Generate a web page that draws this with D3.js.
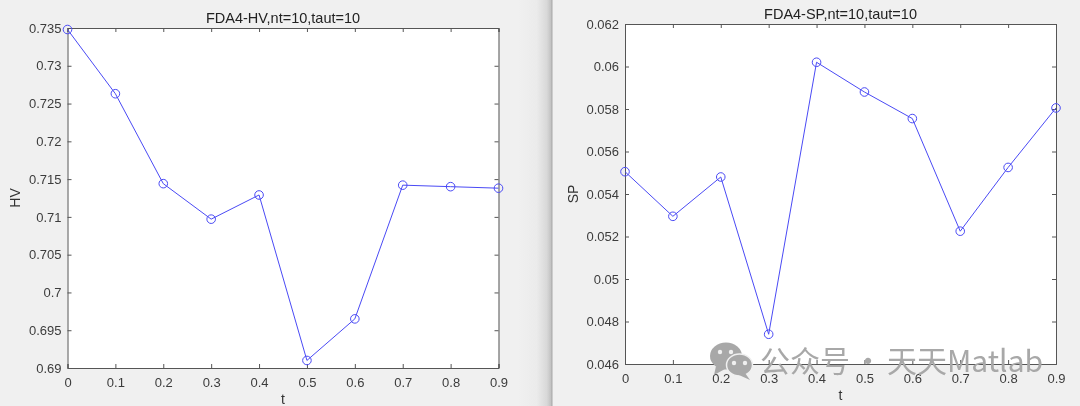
<!DOCTYPE html>
<html><head><meta charset="utf-8">
<script src="https://cdn.jsdelivr.net/npm/d3@7/dist/d3.min.js"></script>
<style>
html,body{margin:0;padding:0;background:#f0f0f0;overflow:hidden}
svg{display:block;filter:blur(0.35px)}
text{font-family:"Liberation Sans",Arial,sans-serif}
</style></head><body>
<svg id="c" width="1080" height="406"></svg>
<script>
const tValues=[0,0.1,0.2,0.3,0.4,0.5,0.6,0.7,0.8,0.9];
const hvValues=[0.7348,0.7263,0.7144,0.7097,0.7129,0.691,0.6965,0.7142,0.714,0.7138];
const spValues=[0.05505,0.05295,0.0548,0.0474,0.0602,0.0588,0.05755,0.05225,0.05525,0.05805];
const hvTicks=[0.69,0.695,0.7,0.705,0.71,0.715,0.72,0.725,0.73,0.735];
const hvLabels=["0.69","0.695","0.7","0.705","0.71","0.715","0.72","0.725","0.73","0.735"];
const spTicks=[0.046,0.048,0.05,0.052,0.054,0.056,0.058,0.06,0.062];
const spLabels=["0.046","0.048","0.05","0.052","0.054","0.056","0.058","0.06","0.062"];
const svg=d3.select("#c");
svg.append("rect").attr("width",1080).attr("height",406).attr("fill","#f0f0f0");

const defs=svg.append("defs");
const g=defs.append("linearGradient").attr("id","sep");
[[0,"#f0f0f0"],[0.55,"#ebebeb"],[0.85,"#d8d8d8"],[1,"#bcbcbc"]].forEach(s=>g.append("stop").attr("offset",s[0]).attr("stop-color",s[1]));
svg.append("rect").attr("x",518).attr("y",0).attr("width",34).attr("height",406).attr("fill","url(#sep)");
svg.append("line").attr("x1",552).attr("x2",552).attr("y1",0).attr("y2",406).attr("stroke","#a8a8a8");

function panel(o){
  const x=d3.scaleLinear().domain([0,0.9]).range([o.l,o.r]);
  const y=d3.scaleLinear().domain(o.dom).range([o.b,o.t]);
  const p=svg.append("g");
  p.append("rect").attr("x",o.l).attr("y",o.t).attr("width",o.r-o.l).attr("height",o.b-o.t).attr("fill","#fff");
  const col="#555";
  const ax=p.append("g").attr("transform",`translate(0,${o.b})`)
    .call(d3.axisBottom(x).tickValues(tValues).tickFormat(d3.format("~g")).tickSize(-4).tickPadding(10));
  const ay=p.append("g").attr("transform",`translate(${o.l},0)`)
    .call(d3.axisLeft(y).tickValues(o.ticks).tickFormat((d,i)=>o.labels[i]).tickSize(-4).tickPadding(6));
  const at=p.append("g").attr("transform",`translate(0,${o.t})`)
    .call(d3.axisTop(x).tickValues(tValues).tickFormat("").tickSize(-4));
  const ar=p.append("g").attr("transform",`translate(${o.r},0)`)
    .call(d3.axisRight(y).tickValues(o.ticks).tickFormat("").tickSize(-4));
  [ax,ay,at,ar].forEach(a=>{
    a.selectAll(".domain").attr("stroke",col).attr("stroke-width",1);
    a.selectAll("line").attr("stroke",col).attr("stroke-width",1);
    a.selectAll("text").attr("fill","#3c3c3c").style("font-size","13px");
  });
  const line=d3.line().x(d=>x(d[0])).y(d=>y(d[1]));
  const pts=tValues.map((t,i)=>[t,o.vals[i]]);
  p.append("path").attr("d",line(pts)).attr("fill","none").attr("stroke","#4a4af5").attr("stroke-width",1);
  p.selectAll("circle").data(pts).join("circle")
    .attr("cx",d=>x(d[0])).attr("cy",d=>y(d[1])).attr("r",4.3)
    .attr("fill","none").attr("stroke","#4a4af5").attr("stroke-width",1);
  p.append("text").attr("x",(o.l+o.r)/2).attr("y",o.t-5).attr("text-anchor","middle")
    .attr("fill","#222").style("font-size","14.5px").text(o.title);
  p.append("text").attr("x",(o.l+o.r)/2).attr("y",o.b+36).attr("text-anchor","middle")
    .attr("fill","#333").style("font-size","14px").text("t");
  p.append("text").attr("transform",`translate(${o.yl},${(o.t+o.b)/2}) rotate(-90)`).attr("text-anchor","middle")
    .attr("fill","#333").style("font-size","14px").text(o.ylabel);
}
panel({l:67.5,r:498.5,t:28,b:368,dom:[0.69,0.735],ticks:hvTicks,labels:hvLabels,vals:hvValues,title:"FDA4-HV,nt=10,taut=10",ylabel:"HV",yl:20});
panel({l:625,r:1056,t:24,b:364,dom:[0.046,0.062],ticks:spTicks,labels:spLabels,vals:spValues,title:"FDA4-SP,nt=10,taut=10",ylabel:"SP",yl:578});

const wm=svg.append("g").attr("fill","#a8a8a8");
wm.append("ellipse").attr("cx",726).attr("cy",356).attr("rx",16).attr("ry",13.5);
wm.append("path").attr("d","M716 366 L714 375 L725 369 Z");
wm.append("ellipse").attr("cx",739.5).attr("cy",365).attr("rx",13).attr("ry",11).attr("stroke","#f0f0f0").attr("stroke-width",1.5);
wm.append("path").attr("d","M745 373 L750 380 L739 375 Z");
[[720,352],[731,352],[734,363],[745,363]].forEach(d=>wm.append("circle").attr("cx",d[0]).attr("cy",d[1]).attr("r",2.2).attr("fill","#f0f0f0"));
const wt=wm.append("text").attr("y",372).style("font-family",'"Noto Sans CJK SC","Noto Sans",sans-serif').style("font-size","30px");
wt.append("tspan").attr("x",760).text("公众号");
wt.append("tspan").attr("x",853).text("·");
wt.append("tspan").attr("x",887).text("天天Matlab");
</script></body></html>
